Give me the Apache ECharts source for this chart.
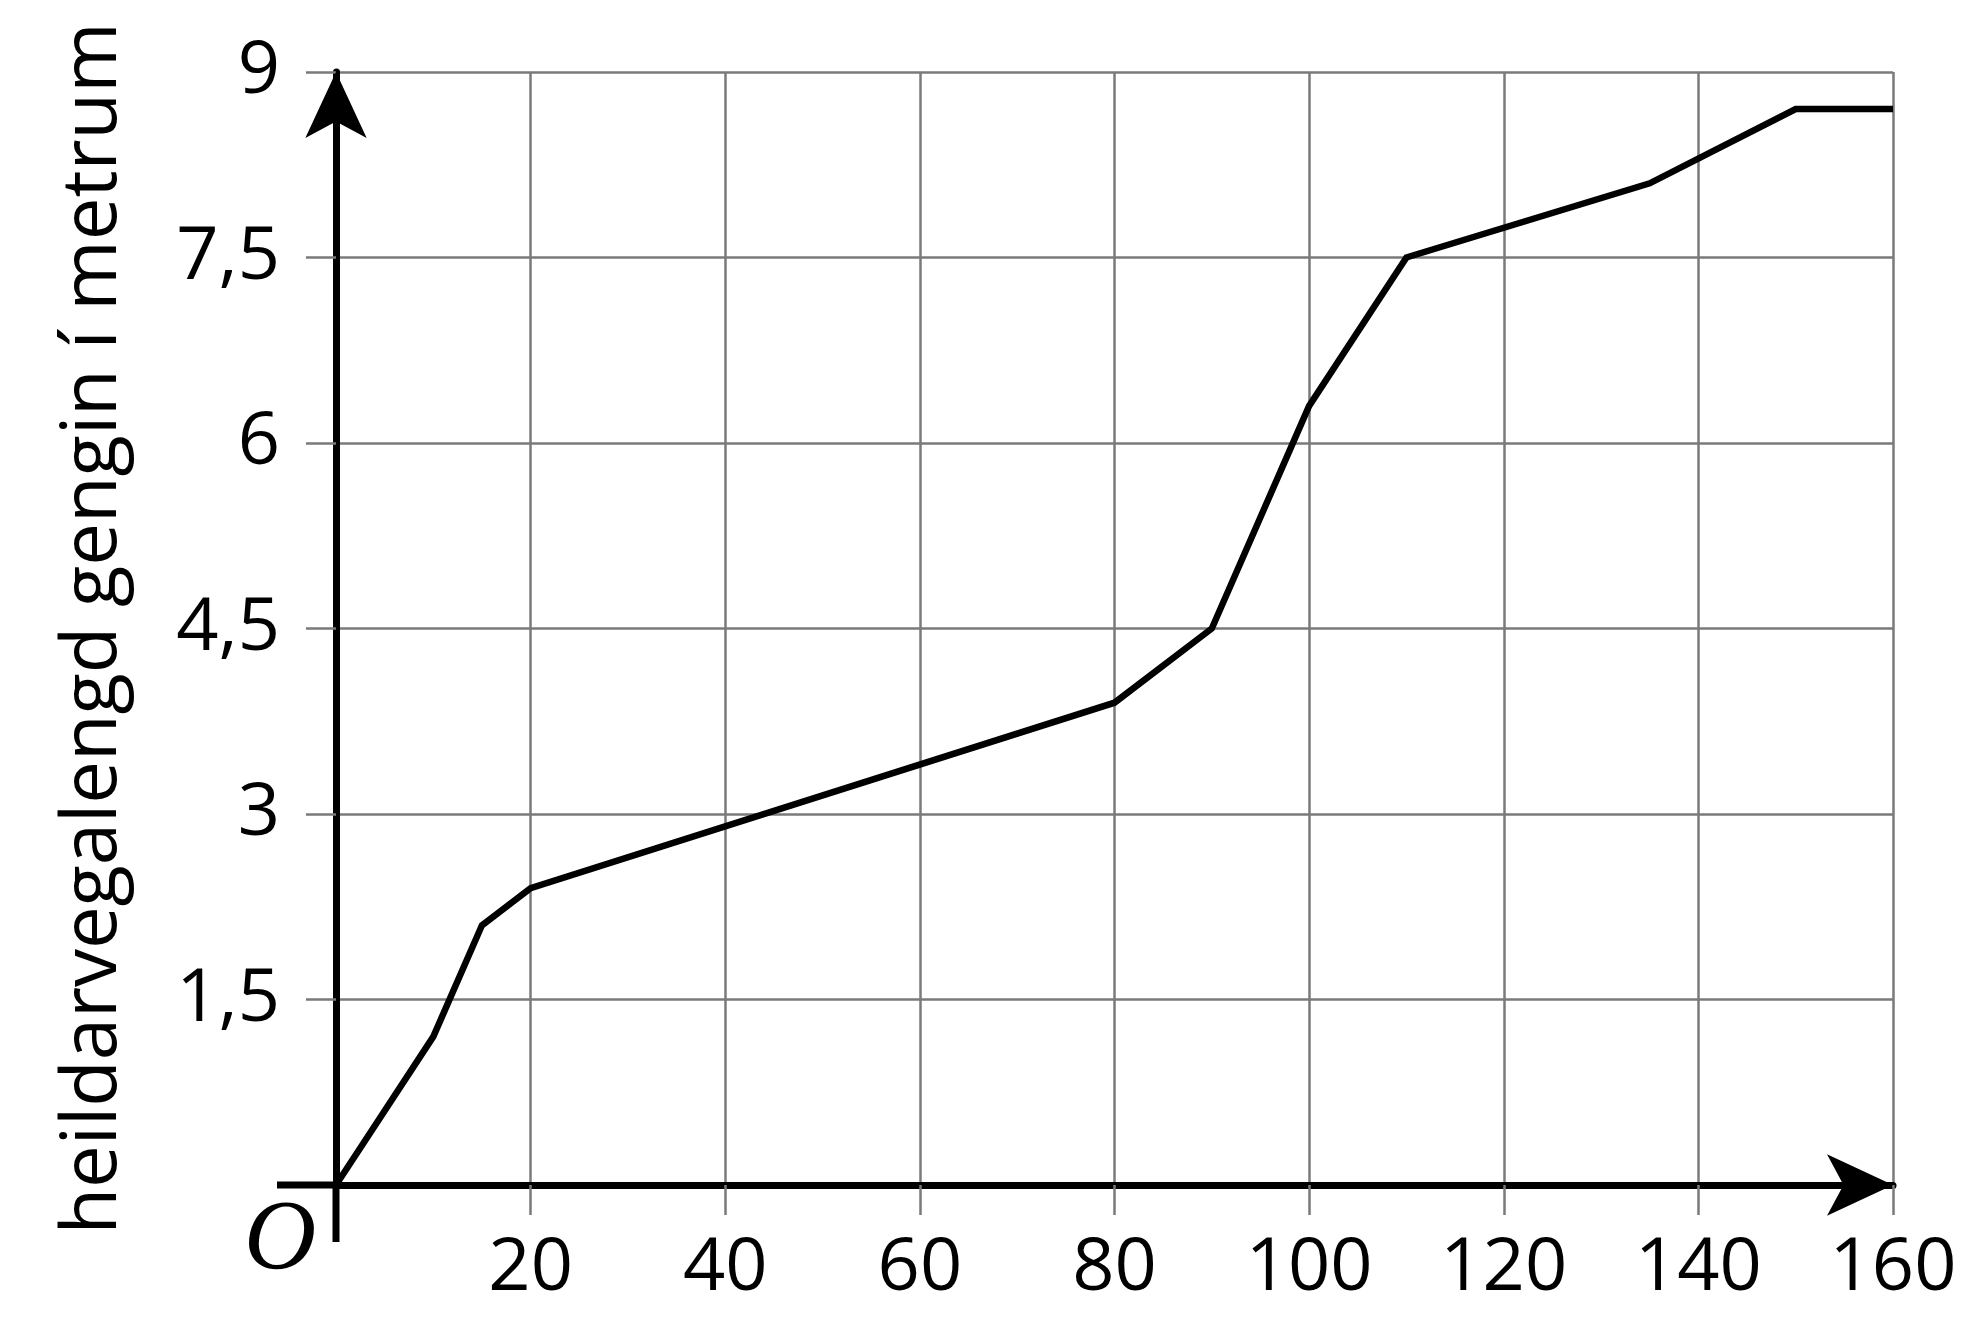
<!DOCTYPE html>
<html>
<head>
<meta charset="utf-8">
<script src="https://cdn.jsdelivr.net/npm/echarts@6/dist/echarts.min.js"></script>
<style>html,body{margin:0;padding:0;background:#fff}#c{width:1976px;height:1328px}</style>
</head>
<body>
<div id="c"></div>
<script>
// time (x) values and total distance (y) values
const timeValues = [0, 10, 15, 20, 80, 90, 100, 110, 135, 150, 160];
const distanceValues = [0, 1.2, 2.1, 2.4, 3.9, 4.5, 6.3, 7.5, 8.1, 8.7, 8.7];
const xTicks = [0, 20, 40, 60, 80, 100, 120, 140, 160];
const yTicks = [0, 1.5, 3, 4.5, 6, 7.5, 9];
const yAxisName = 'heildarvegalengd gengin í metrum';
const originLabel = 'O';

const FONT = 'Open Sans';
const GRIDC = '#7a7a7a';
const chart = echarts.init(document.getElementById('c'));
const points = timeValues.map((t, i) => [t, distanceValues[i]]);

chart.setOption({
  animation: false,
  backgroundColor: '#fff',
  grid: { left: 336, right: 83, top: 72, bottom: 143, containLabel: false },
  xAxis: {
    type: 'value', min: xTicks[0], max: xTicks[xTicks.length - 1], interval: xTicks[1] - xTicks[0],
    axisLine: { show: true, onZero: false, symbol: ['none', 'arrow'], symbolSize: [46, 66], lineStyle: { color: '#000', width: 7 } },
    axisTick: { show: true, length: 30, lineStyle: { color: GRIDC, width: 2.5 } },
    splitLine: { show: true, lineStyle: { color: GRIDC, width: 2.5 } },
    axisLabel: { fontFamily: FONT, fontSize: 74, color: '#000', margin: 47,
      formatter: v => v === 0 ? '' : String(v) }
  },
  yAxis: {
    type: 'value', min: yTicks[0], max: yTicks[yTicks.length - 1], interval: yTicks[1] - yTicks[0],
    name: yAxisName, nameLocation: 'middle', nameGap: 204,
    nameTextStyle: { fontFamily: FONT, fontSize: 76, color: '#000' },
    axisLine: { show: true, onZero: false, symbol: ['none', 'arrow'], symbolSize: [46, 66], lineStyle: { color: '#000', width: 7 } },
    axisTick: { show: true, length: 30, lineStyle: { color: GRIDC, width: 2.5 } },
    splitLine: { show: true, lineStyle: { color: GRIDC, width: 2.5 } },
    axisLabel: { fontFamily: FONT, fontSize: 74, color: '#000', margin: 56,
      formatter: v => v === 0 ? '' : String(v).replace('.', ',') }
  },
  series: [{
    type: 'line', data: points, symbol: 'none', z: 5,
    lineStyle: { color: '#000', width: 6.5, join: 'miter' }
  }]
});

const o = chart.convertToPixel({ gridIndex: 0 }, [0, 0]);
chart.setOption({
  graphic: [
    { type: 'line', z: 10, shape: { x1: o[0] - 59, y1: o[1], x2: o[0], y2: o[1] }, style: { stroke: '#000', lineWidth: 7 } },
    { type: 'line', z: 10, shape: { x1: o[0], y1: o[1], x2: o[0], y2: o[1] + 57 }, style: { stroke: '#000', lineWidth: 7 } },
    { type: 'text', z: 10, x: o[0] - 56, y: o[1] + 57,
      style: { text: originLabel, fontFamily: 'Liberation Serif', fontStyle: 'italic', fontSize: 100, fill: '#000', align: 'center', verticalAlign: 'middle' } }
  ]
});
</script>
</body>
</html>
